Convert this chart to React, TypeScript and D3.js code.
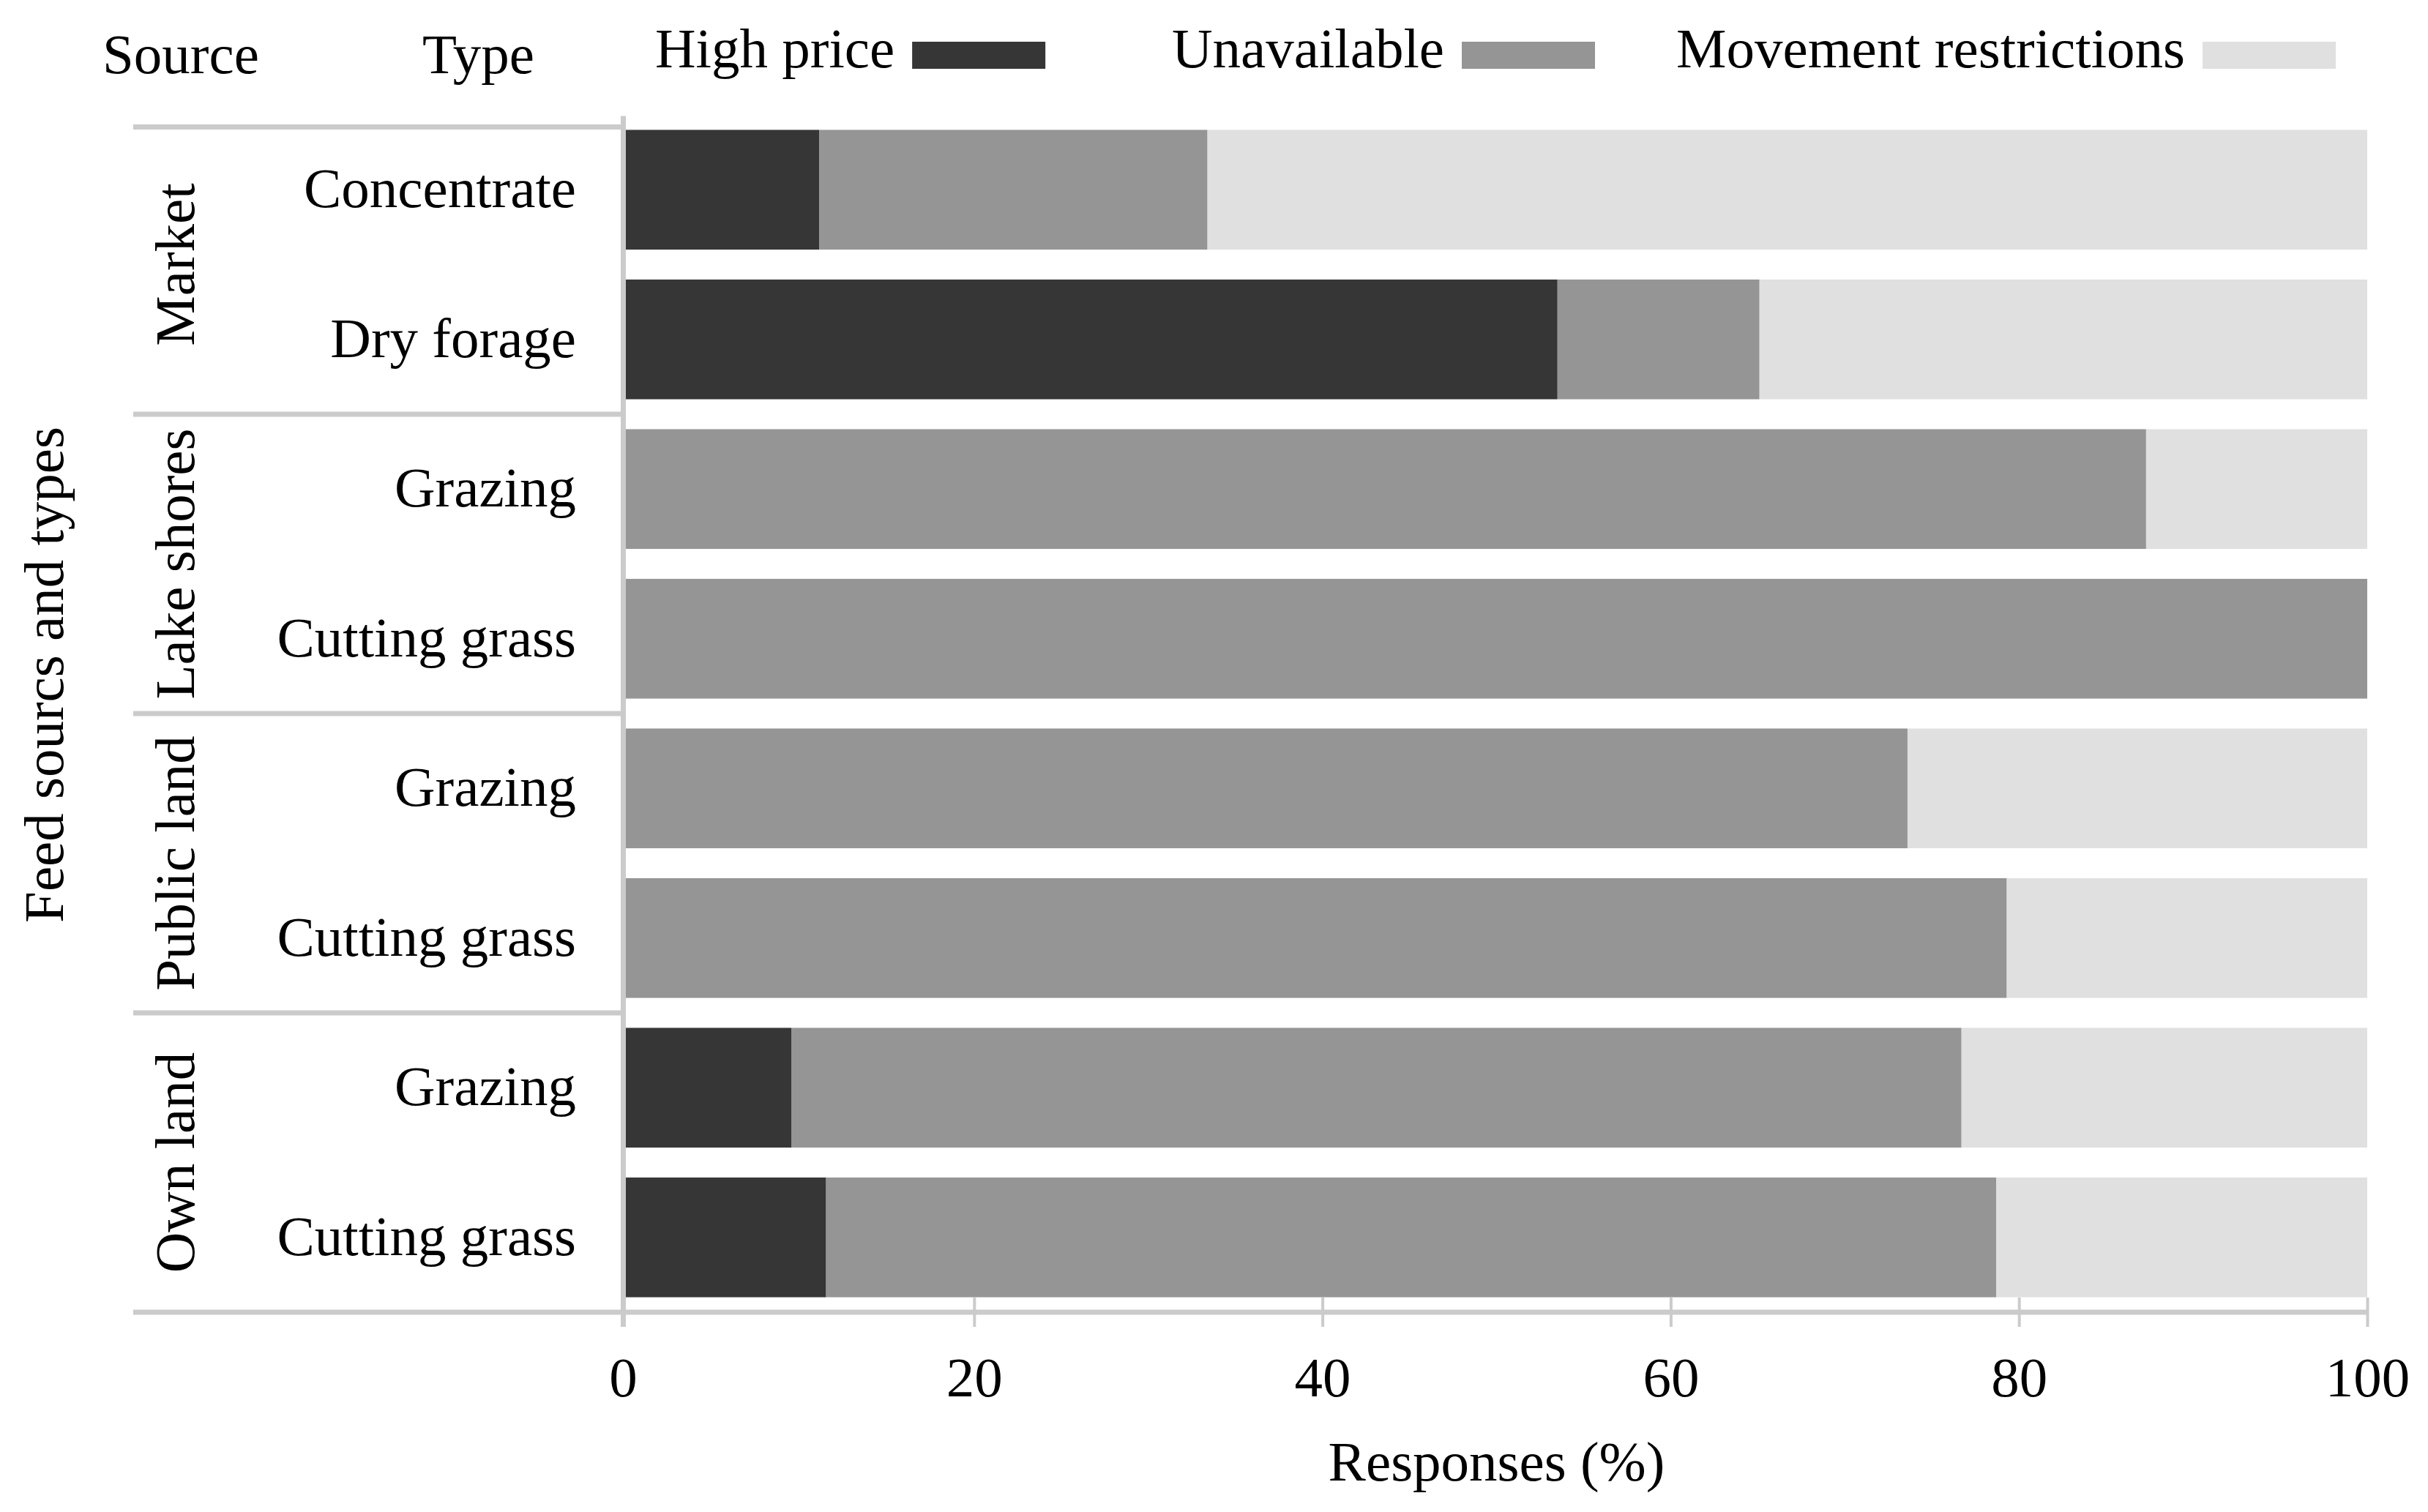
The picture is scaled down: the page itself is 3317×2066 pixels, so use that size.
import React, { useRef, useEffect } from 'react';
import * as d3 from 'd3';

const sources = ['Market', 'Lake shores', 'Public land', 'Own land'];
const rowSource = ['Market', 'Market', 'Lake shores', 'Lake shores', 'Public land', 'Public land', 'Own land', 'Own land'];
const types = ['Concentrate', 'Dry forage', 'Grazing', 'Cutting grass', 'Grazing', 'Cutting grass', 'Grazing', 'Cutting grass'];

const highPrice = [11.1, 53.5, 0, 0, 0, 0, 9.5, 11.5];
const unavailable = [22.3, 11.6, 87.3, 100, 73.6, 79.3, 67.2, 67.2];
const movement = [66.6, 34.9, 12.7, 0, 26.4, 20.7, 23.3, 21.3];

const seriesNames = ['High price', 'Unavailable', 'Movement restrictions'];
const xTicks = [0, 20, 40, 60, 80, 100];

const W = 3317;
const H = 2066;
const FONT = '"Liberation Serif", "Times New Roman", serif';

const App = () => {
  const svgRef = useRef(null);

  useEffect(() => {
    document.body.style.margin = '0';
    const svg = d3.select(svgRef.current);
    svg.selectAll('*').remove();

    const rows = types.map((t, i) => ({
      idx: i,
      type: t,
      source: rowSource[i],
      'High price': highPrice[i],
      'Unavailable': unavailable[i],
      'Movement restrictions': movement[i],
    }));

    const x = d3.scaleLinear().domain([0, 100]).range([855, 3234]);
    const y = d3.scaleBand()
      .domain(d3.range(rows.length))
      .range([157, 1793])
      .paddingInner(0.2)
      .paddingOuter(0.1);

    const color = d3.scaleOrdinal()
      .domain(seriesNames)
      .range(['#363636', '#959595', '#e0e0e0']);

    const lineColor = '#cbcbcb';
    const leftEdge = 182;
    const half = (y.step() * y.paddingInner()) / 2;

    svg.append('rect').attr('width', W).attr('height', H).attr('fill', '#fff');

    // stacked bars
    const stacked = d3.stack().keys(seriesNames)(rows);
    svg.append('g')
      .selectAll('g')
      .data(stacked)
      .join('g')
      .attr('fill', d => color(d.key))
      .selectAll('rect')
      .data(d => d)
      .join('rect')
      .attr('x', d => x(d[0]))
      .attr('width', d => Math.max(0, x(d[1]) - x(d[0])))
      .attr('y', d => y(d.data.idx))
      .attr('height', y.bandwidth());

    // group separators
    const groups = sources.map(s => {
      const idxs = rows.filter(r => r.source === s).map(r => r.idx);
      const top = y(d3.min(idxs)) - half;
      const bottom = y(d3.max(idxs)) + y.bandwidth() + half;
      return { s, top, bottom };
    });

    const sep = svg.append('g').attr('stroke', lineColor).attr('stroke-width', 7);
    sep.append('line')
      .attr('x1', leftEdge).attr('x2', x(0) - 3.5)
      .attr('y1', y(0) - 4).attr('y2', y(0) - 4);
    groups.slice(1).forEach(g => {
      sep.append('line')
        .attr('x1', leftEdge).attr('x2', x(0) - 3.5)
        .attr('y1', g.top).attr('y2', g.top);
    });
    const baseY = groups[groups.length - 1].bottom;
    sep.append('line')
      .attr('x1', leftEdge).attr('x2', x(100))
      .attr('y1', baseY).attr('y2', baseY);
    sep.append('line')
      .attr('x1', x(0) - 3.5).attr('x2', x(0) - 3.5)
      .attr('y1', y(0) - 19).attr('y2', baseY + 20);

    // x axis
    const xAxis = d3.axisBottom(x)
      .tickValues(xTicks)
      .tickSize(40)
      .tickPadding(40)
      .tickFormat(d3.format('d'));
    const ax = svg.append('g')
      .attr('transform', `translate(0,${baseY - 20})`)
      .call(xAxis);
    ax.select('.domain').remove();
    ax.selectAll('.tick line')
      .attr('stroke', lineColor)
      .attr('stroke-width', 4)
      .filter(d => d === 0).remove();
    ax.selectAll('.tick text')
      .attr('font-family', FONT)
      .attr('font-size', 77)
      .attr('fill', '#000');
    ax.selectAll('.tick').filter(d => d === 0)
      .attr('transform', `translate(${x(0) - 3.5},0)`);

    svg.append('text')
      .attr('x', (x(0) + x(100)) / 2)
      .attr('y', 2023)
      .attr('text-anchor', 'middle')
      .attr('font-family', FONT)
      .attr('font-size', 77)
      .text('Responses (%)');

    // type labels
    svg.append('g')
      .selectAll('text')
      .data(rows)
      .join('text')
      .attr('x', 787)
      .attr('y', d => y(d.idx) + y.bandwidth() / 2)
      .attr('dy', '0.31em')
      .attr('text-anchor', 'end')
      .attr('font-family', FONT)
      .attr('font-size', 77)
      .text(d => d.type);

    // source labels
    svg.append('g')
      .selectAll('text')
      .data(groups)
      .join('text')
      .attr('transform', d => `translate(265,${(d.top + d.bottom) / 2}) rotate(-90)`)
      .attr('text-anchor', 'middle')
      .attr('font-family', FONT)
      .attr('font-size', 77)
      .text(d => d.s);

    svg.append('text')
      .attr('transform', 'translate(86,922) rotate(-90)')
      .attr('text-anchor', 'middle')
      .attr('font-family', FONT)
      .attr('font-size', 77)
      .text('Feed sourcs and types');

    // header
    svg.append('text').attr('x', 140).attr('y', 100)
      .attr('font-family', FONT).attr('font-size', 77).text('Source');
    svg.append('text').attr('x', 577).attr('y', 100)
      .attr('font-family', FONT).attr('font-size', 77).text('Type');

    // legend
    const legendX = [895, 1601, 2290];
    const leg = svg.append('g');
    seriesNames.forEach((name, i) => {
      const t = leg.append('text')
        .attr('x', legendX[i])
        .attr('y', 92)
        .attr('font-family', FONT)
        .attr('font-size', 77)
        .text(name);
      const w = t.node().getComputedTextLength();
      leg.append('rect')
        .attr('x', legendX[i] + w + 24)
        .attr('y', 57)
        .attr('width', 182)
        .attr('height', 37)
        .attr('fill', color(name));
    });
  }, []);

  return <svg ref={svgRef} width={W} height={H} style={{ display: 'block' }}></svg>;
};

export default App;
